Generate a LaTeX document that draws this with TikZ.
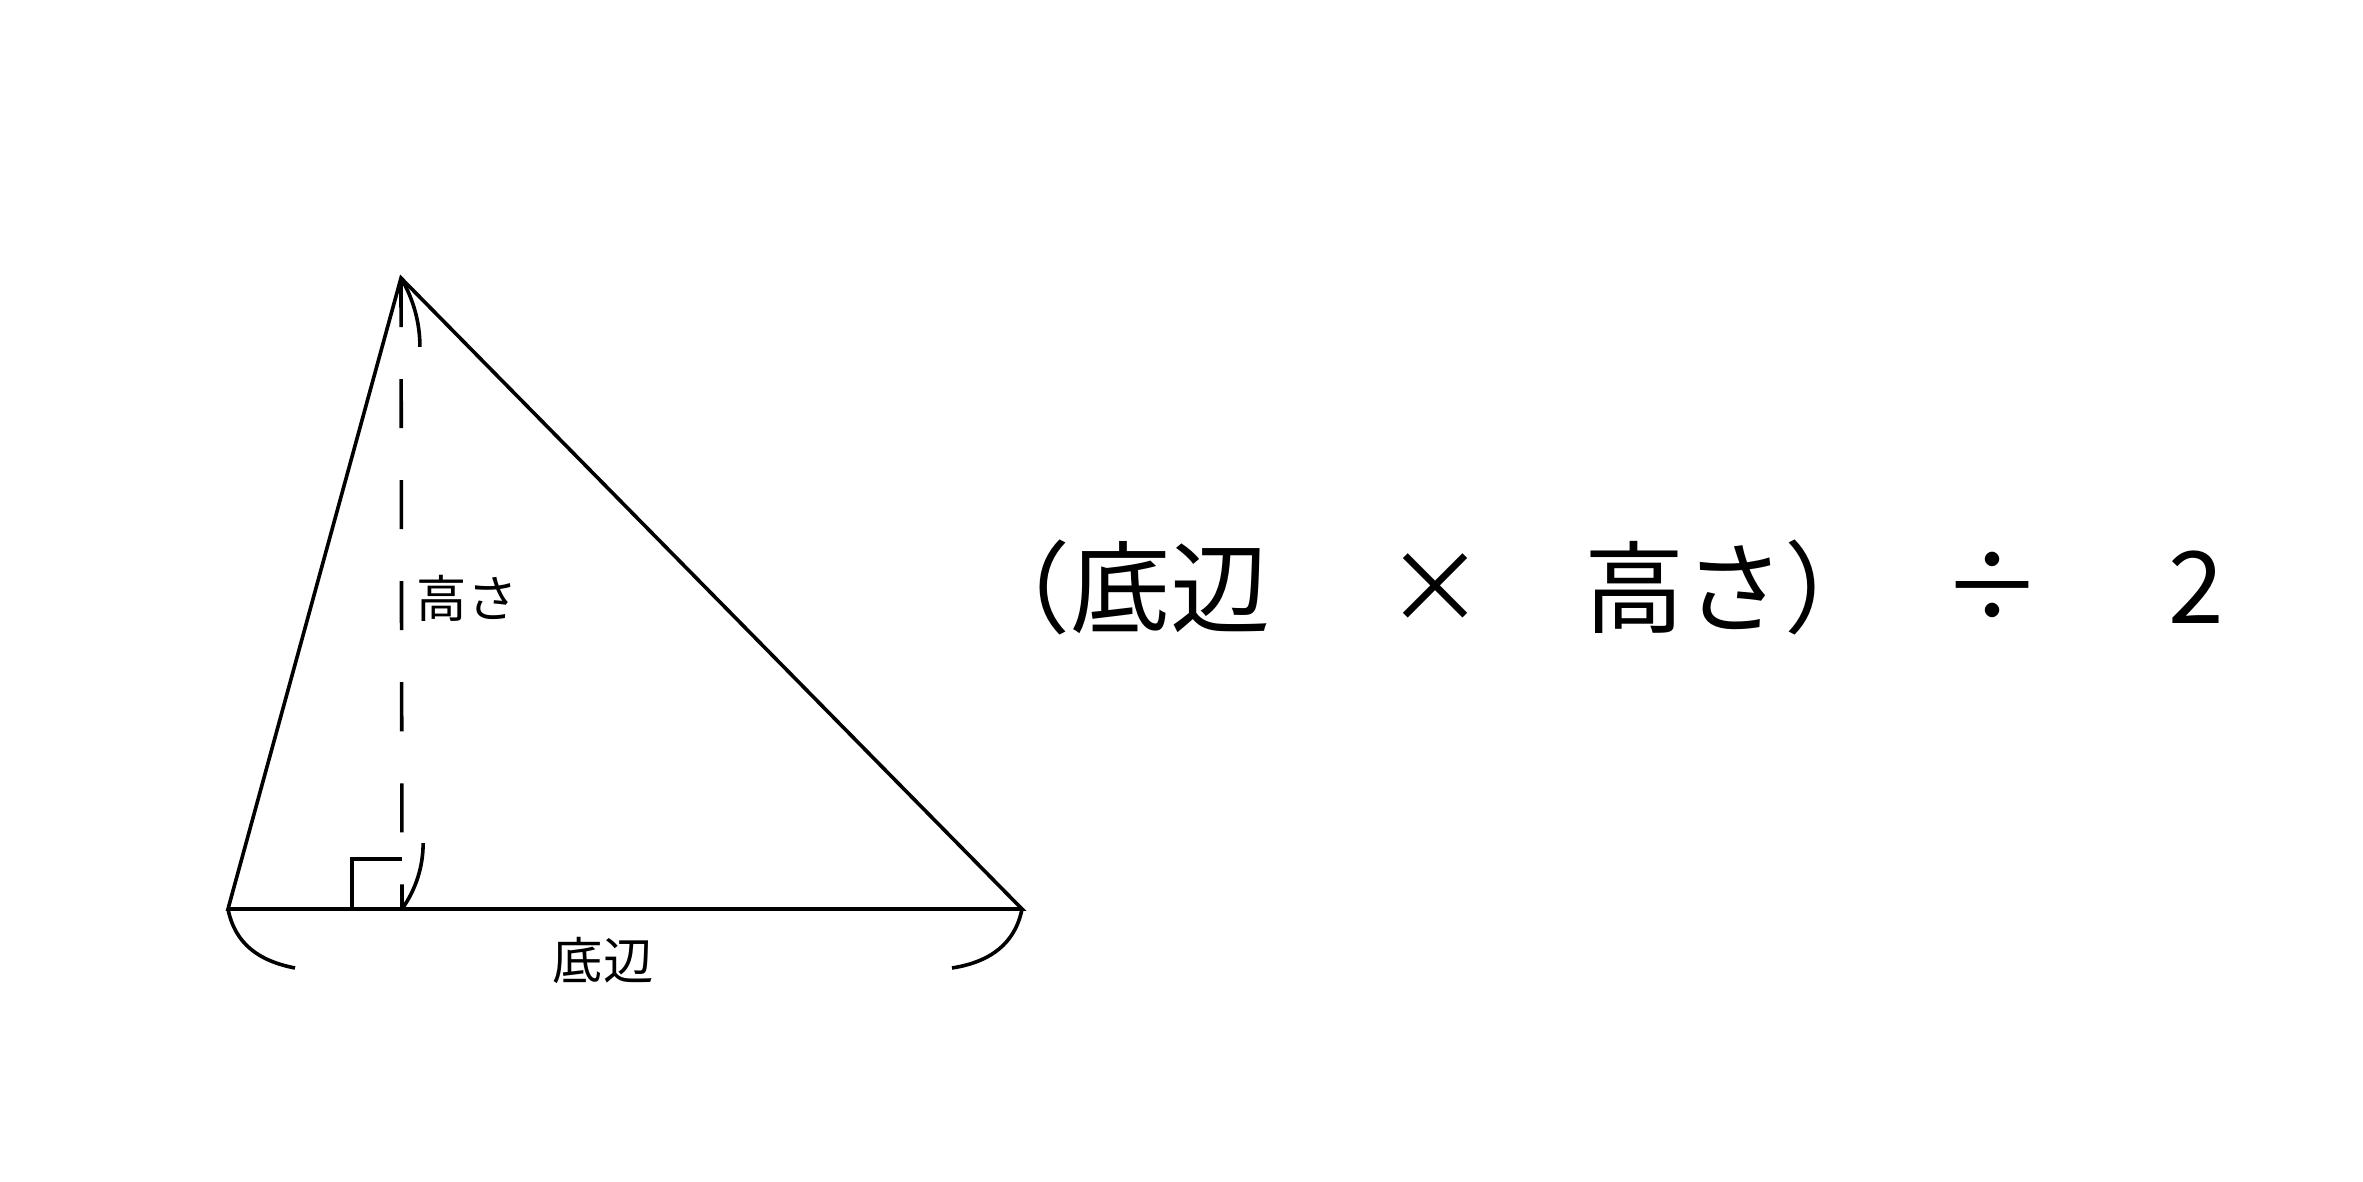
\documentclass[tikz,border=0pt]{standalone}
\usepackage{fontspec}
\setmainfont{Noto Sans CJK JP}
\begin{document}
\begin{tikzpicture}[x=0.01cm,y=-0.01cm,line width=0.036cm,
  edge/.style={draw=black,line join=miter},
  heightline/.style={draw=black,dash pattern=on 0.49cm off 0.52cm},
  bigtxt/.style={inner sep=0pt,font=\fontsize{28.45pt}{34pt}\selectfont},
  smalltxt/.style={inner sep=0pt,font=\fontsize{14.3pt}{17pt}\selectfont}]
\useasboundingbox[fill=white] (0,0) rectangle (2363,1182);
% vertices
\coordinate (A) at (401,278);
\coordinate (B) at (228,909);
\coordinate (C) at (1022,909);
\coordinate (H) at (402,909);
\coordinate (Bl) at (295,968);
\coordinate (Cr) at (952,968);
\coordinate (Q1) at (352,909);
\coordinate (Q2) at (352,859);
\coordinate (Q3) at (402,859);
% triangle
\draw[edge] (A) -- (B) -- (C) -- cycle;
% height
\draw[heightline] (A) -- (H);
% right angle mark
\draw[edge] (Q1) -- (Q2) -- (Q3);
% height bracket
\draw (A) arc[start angle=30.7,end angle=0,radius=1.35cm];
\draw (H) arc[start angle=-35.6,end angle=0,radius=1.13cm];
% base bracket
\draw (B) .. controls (235,944) and (259,961) .. (Bl);
\draw (C) .. controls (1015,944) and (990,962) .. (Cr);
% labels
\node[smalltxt] (lh) at (467,598) {高さ};
\node[smalltxt] (lb) at (603,960) {底辺};
% formula
\node[bigtxt,anchor=east] (f1) at (1272,587) {（底辺};
\node[bigtxt] (f2) at (1436,589) {×};
\node[bigtxt,anchor=west] (f3) at (1583,587) {高さ）};
\node[bigtxt] (f4) at (1993,587) {÷};
\node[bigtxt] (f5) at (2196,587) {2};
\end{tikzpicture}
\end{document}
